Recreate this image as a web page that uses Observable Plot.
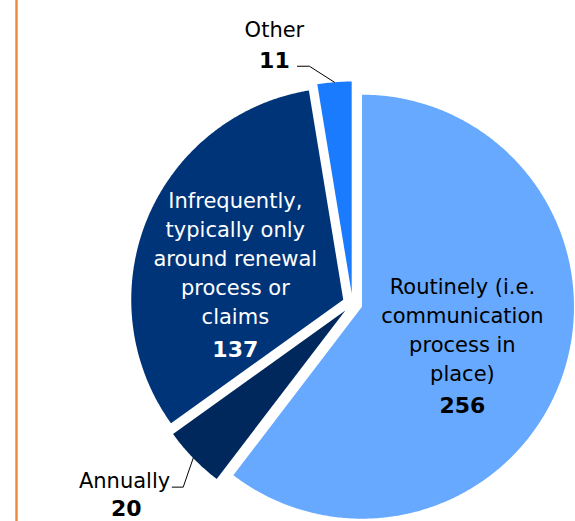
<!DOCTYPE html>
<html><head><meta charset="utf-8">
<script src="https://cdn.jsdelivr.net/npm/d3@7"></script>
<script src="https://cdn.jsdelivr.net/npm/@observablehq/plot@0.6"></script>
<style>body{margin:0;background:#fff} #chart svg{display:block}</style>
</head><body><div id="chart"></div>
<script>
// ---- data ----
const categories = [
  "Routinely (i.e.\ncommunication\nprocess in\nplace)",
  "Annually",
  "Infrequently,\ntypically only\naround renewal\nprocess or\nclaims",
  "Other"
];
const values = [256, 20, 137, 11];
const sliceColors = ["#66a9ff", "#00285c", "#003479", "#1a7bff"];

// ---- layout ----
const W = 575, H = 521;
const cx = 352, cy = 303, R = 212, explode = 10;
const FONT = "'DejaVu Sans', sans-serif";

const arcs = d3.pie().sort(null).value(d => d)(values);
const slices = arcs.map((a, i) => {
  const mid = (a.startAngle + a.endAngle) / 2;
  return {
    i, name: categories[i], value: values[i], color: sliceColors[i],
    a0: a.startAngle, a1: a.endAngle, mid,
    ox: cx + explode * Math.sin(mid), oy: cy - explode * Math.cos(mid)
  };
});
const pt = (s, r, a) => [s.ox + r * Math.sin(a), s.oy - r * Math.cos(a)];

const polys = slices.flatMap(s => {
  const n = Math.max(2, Math.ceil((s.a1 - s.a0) / (Math.PI / 360)));
  const out = [{x: s.ox, y: s.oy, name: s.name, color: s.color}];
  for (let k = 0; k <= n; k++) {
    const [x, y] = pt(s, R, s.a0 + (s.a1 - s.a0) * k / n);
    out.push({x, y, name: s.name, color: s.color});
  }
  return out;
});

// inside labels (Routinely, Infrequently)
const insideNudge = {0: {dx: 0, dl: 40, dn: 72, fill: "#000"}, 2: {dx: -10, dl: 65, dn: 98, fill: "#fff"}};
const inside = slices.filter(s => insideNudge[s.i]).map(s => {
  const [x, y] = pt(s, R * 0.5, s.mid);
  const n = insideNudge[s.i];
  return {text: s.name, num: String(s.value), x: x + n.dx, yl: y + n.dl, yn: y + n.dn, fill: n.fill};
});

// outside labels with leaders (Annually, Other)
const leaderShape = {1: {ex: -10, ey: 29, hx: -11}, 3: {ex: -25, ey: -16, hx: -12}};
const leaders = [];
const outsideEnd = [];   // right-aligned names
const outsideMid = [];   // centred names
const outsideNum = [];   // bold values
slices.filter(s => leaderShape[s.i]).forEach(s => {
  const L = leaderShape[s.i];
  const [x0, y0] = pt(s, R, s.mid);
  const x1 = x0 + L.ex, y1 = y0 + L.ey, x2 = x1 + L.hx;
  leaders.push({x: x0, y: y0, k: s.name}, {x: x1, y: y1, k: s.name}, {x: x2, y: y1, k: s.name});
  if (s.i === 1) {
    outsideEnd.push({text: s.name, x: x2 - 2, y: y1 + 1});
    outsideNum.push({text: String(s.value), x: x2 - 46, y: y1 + 29});
  } else {
    outsideMid.push({text: s.name, x: x2 - 23, y: y1 - 29});
    outsideNum.push({text: String(s.value), x: x2 - 23, y: y1 + 1.5});
  }
});

const chart = Plot.plot({
  width: W, height: H,
  margin: 0,
  x: {type: "identity", axis: null},
  y: {type: "identity", axis: null},
  color: {type: "identity"},
  style: {fontFamily: FONT, background: "#fff"},
  marks: [
    Plot.ruleX([16], {x: d => d, stroke: "#f0873d", strokeWidth: 2.4}),
    Plot.line(polys, {x: "x", y: "y", z: "name", fill: "color", stroke: "none", curve: "linear-closed"}),
    Plot.line(leaders, {x: "x", y: "y", z: "k", stroke: "#000", strokeWidth: 1}),
    Plot.text(inside, {x: "x", y: "yl", text: "text", fill: "fill", lineAnchor: "bottom", lineHeight: 1.38, fontSize: 21, textAnchor: "middle"}),
    Plot.text(inside, {x: "x", y: "yn", text: "num", fill: "fill", lineAnchor: "bottom", fontSize: 22, fontWeight: "bold", textAnchor: "middle"}),
    Plot.text(outsideEnd, {x: "x", y: "y", text: "text", textAnchor: "end", lineAnchor: "bottom", fontSize: 21, fill: "#000"}),
    Plot.text(outsideMid, {x: "x", y: "y", text: "text", textAnchor: "middle", lineAnchor: "bottom", fontSize: 21, fill: "#000"}),
    Plot.text(outsideNum, {x: "x", y: "y", text: "text", textAnchor: "middle", lineAnchor: "bottom", fontSize: 22, fontWeight: "bold", fill: "#000"})
  ]
});
document.getElementById("chart").appendChild(chart);
</script>
</body></html>
